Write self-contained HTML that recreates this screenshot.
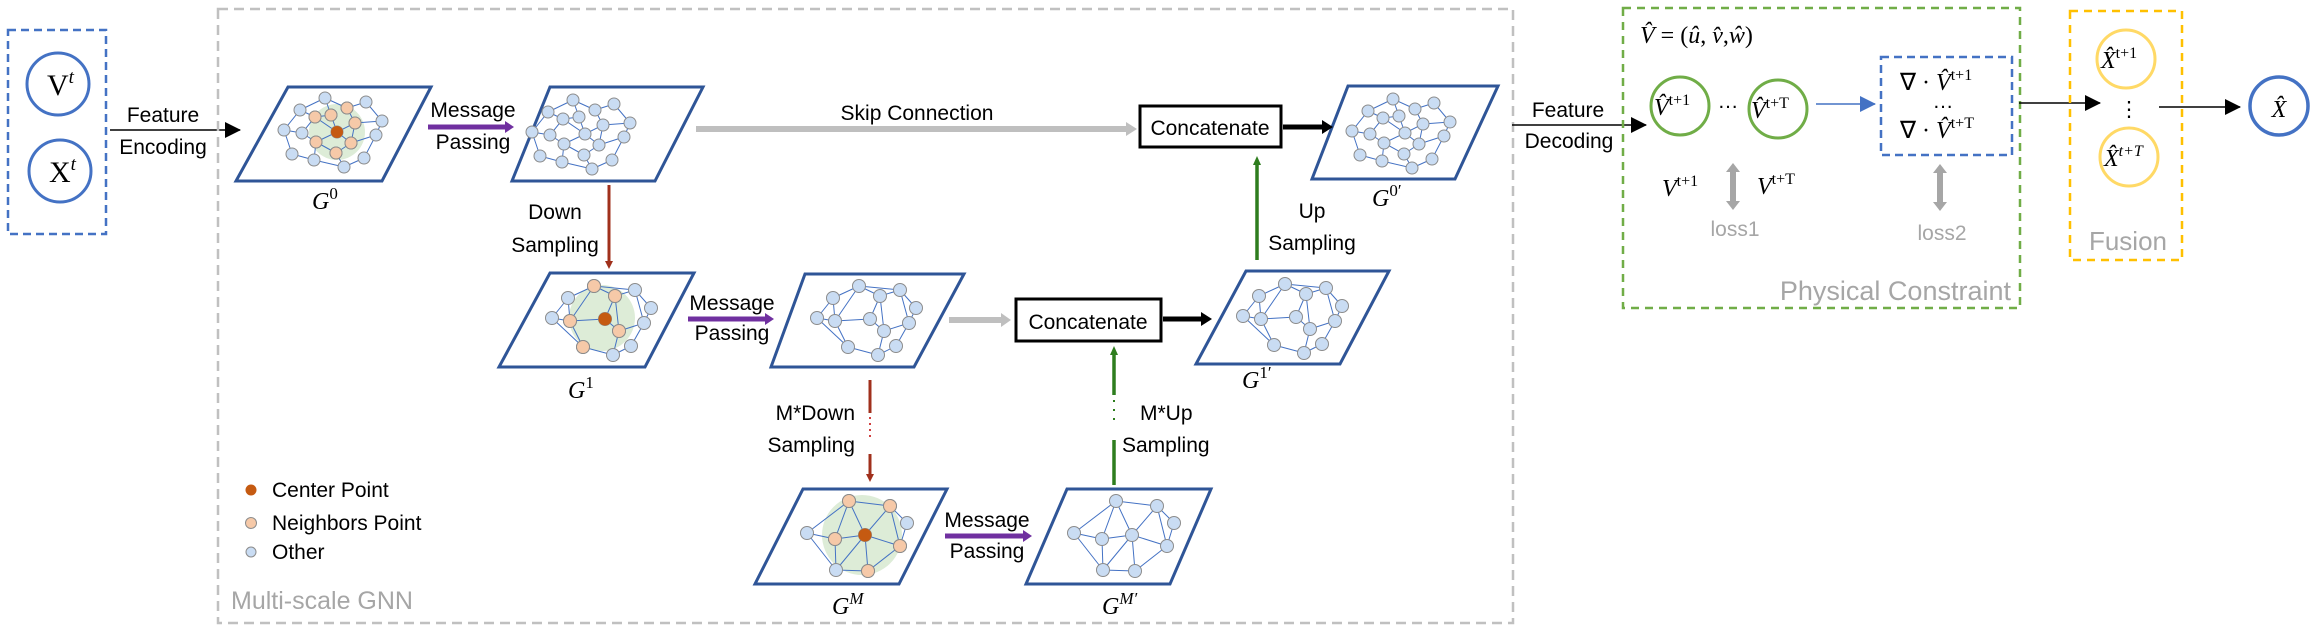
<!DOCTYPE html>
<html><head><meta charset="utf-8"><style>
html,body{margin:0;padding:0;background:#fff;}
svg{display:block;}
.t{font-family:"Liberation Sans",sans-serif;font-size:21px;fill:#000;}
.m{font-family:"Liberation Serif",serif;font-style:italic;font-size:24px;fill:#000;}
.g{font-family:"Liberation Sans",sans-serif;fill:#a6a6a6;}
</style></head><body>
<svg width="2317" height="631" viewBox="0 0 2317 631" xmlns="http://www.w3.org/2000/svg">
<defs>
<marker id="ak" markerWidth="10" markerHeight="10" refX="9" refY="5" orient="auto" markerUnits="userSpaceOnUse"><path d="M0,0L10,5L0,10z" fill="#000"/></marker>
<marker id="ak2" markerWidth="16" markerHeight="16" refX="15" refY="8" orient="auto" markerUnits="userSpaceOnUse"><path d="M0,0L16,8L0,16z" fill="#000"/></marker>
<marker id="ab" markerWidth="16" markerHeight="16" refX="15" refY="8" orient="auto" markerUnits="userSpaceOnUse"><path d="M0,0L16,8L0,16z" fill="#4472c4"/></marker>
<g id="A">
<path fill="none" stroke="#4472c4" stroke-width="1" d="M-12,-34L-37,-22M-12,-34L-6,-17M-12,-34L10,-24M29,-30L10,-24M29,-30L45,-11M-37,-22L-22,-15M-37,-22L-53,-2M-22,-15L-6,-17M-22,-15L-35,1M-6,-17L0,0M10,-24L18,-9M18,-9L45,-11M18,-9L0,0M45,-11L39,3M-53,-2L-35,1M-53,-2L-45,22M-35,1L-21,10M0,0L-21,10M0,0L14,11M39,3L14,11M39,3L27,26M-21,10L-23,28M14,11L-1,21M-45,22L-23,28M-1,21L7,35M27,26L7,35M-23,28L7,35M-21,10L-1,21M18,-9L14,11M-22,-15L0,0"/>
<g fill="#c9dcf3" stroke="#8c8c8c" stroke-width="1">
<circle cx="-12" cy="-34" r="6"/><circle cx="29" cy="-30" r="6"/><circle cx="-37" cy="-22" r="6"/><circle cx="-22" cy="-15" r="6"/><circle cx="-6" cy="-17" r="6"/><circle cx="10" cy="-24" r="6"/><circle cx="18" cy="-9" r="6"/><circle cx="45" cy="-11" r="6"/><circle cx="-53" cy="-2" r="6"/><circle cx="-35" cy="1" r="6"/><circle cx="0" cy="0" r="6"/><circle cx="39" cy="3" r="6"/><circle cx="-21" cy="10" r="6"/><circle cx="14" cy="11" r="6"/><circle cx="-45" cy="22" r="6"/><circle cx="-1" cy="21" r="6"/><circle cx="27" cy="26" r="6"/><circle cx="-23" cy="28" r="6"/><circle cx="7" cy="35" r="6"/>
</g></g>
<g id="B">
<path fill="none" stroke="#4472c4" stroke-width="1" d="M-8,-34L-34,-22M-8,-34L13,-24M-8,-34L33,-30M-34,-22L-50,-2M-34,-22L-32,1M13,-24L33,-30M13,-24L3,-1M33,-30L49,-12M33,-30L42,3M49,-12L42,3M-50,-2L-32,1M-50,-2L-19,27M-32,1L3,-1M-32,1L-19,27M3,-1L17,11M42,3L17,11M42,3L29,26M17,11L11,35M-19,27L11,35M29,26L11,35M-8,-34L-32,1M13,-24L17,11"/>
<g fill="#c9dcf3" stroke="#8c8c8c" stroke-width="1">
<circle cx="-8" cy="-34" r="6.5"/><circle cx="-34" cy="-22" r="6.5"/><circle cx="13" cy="-24" r="6.5"/><circle cx="33" cy="-30" r="6.5"/><circle cx="49" cy="-12" r="6.5"/><circle cx="-50" cy="-2" r="6.5"/><circle cx="-32" cy="1" r="6.5"/><circle cx="3" cy="-1" r="6.5"/><circle cx="42" cy="3" r="6.5"/><circle cx="17" cy="11" r="6.5"/><circle cx="-19" cy="27" r="6.5"/><circle cx="29" cy="26" r="6.5"/><circle cx="11" cy="35" r="6.5"/>
</g></g>
<g id="C">
<path fill="none" stroke="#4472c4" stroke-width="1" d="M-2,-36L39,-31M-2,-36L-44,-4M-2,-36L-16,2M-2,-36L14,-2M39,-31L56,-14M39,-31L14,-2M56,-14L49,9M-44,-4L-16,2M-44,-4L-15,33M-16,2L14,-2M-16,2L-15,33M14,-2L49,9M14,-2L17,34M49,9L17,34M-15,33L17,34M39,-31L49,9M14,-2L-15,33"/>
<g fill="#c9dcf3" stroke="#8c8c8c" stroke-width="1">
<circle cx="-2" cy="-36" r="6.5"/><circle cx="39" cy="-31" r="6.5"/><circle cx="56" cy="-14" r="6.5"/><circle cx="-44" cy="-4" r="6.5"/><circle cx="-16" cy="2" r="6.5"/><circle cx="14" cy="-2" r="6.5"/><circle cx="49" cy="9" r="6.5"/><circle cx="-15" cy="33" r="6.5"/><circle cx="17" cy="34" r="6.5"/>
</g></g>
</defs>

<!-- input box -->
<rect x="8" y="30" width="98" height="204" fill="none" stroke="#4472c4" stroke-width="2.5" stroke-dasharray="8,5"/>
<circle cx="58" cy="84" r="31" fill="none" stroke="#4472c4" stroke-width="3"/>
<circle cx="60" cy="171" r="31" fill="none" stroke="#4472c4" stroke-width="3"/>
<text x="47" y="95" font-family="Liberation Serif,serif" font-size="30">V<tspan dy="-12" font-size="19" font-style="italic">t</tspan></text>
<text x="49" y="182" font-family="Liberation Serif,serif" font-size="30">X<tspan dy="-12" font-size="19" font-style="italic">t</tspan></text>
<line x1="110" y1="130" x2="240" y2="130" stroke="#000" stroke-width="1.5" marker-end="url(#ak2)"/>
<text class="t" x="163" y="122" text-anchor="middle">Feature</text>
<text class="t" x="163" y="154" text-anchor="middle">Encoding</text>

<!-- GNN box -->
<rect x="218" y="9" width="1295" height="614" fill="none" stroke="#c0c0c0" stroke-width="2.5" stroke-dasharray="10,6"/>
<text class="g" x="231" y="609" font-size="25">Multi-scale GNN</text>

<!-- parallelograms -->
<g fill="none" stroke="#2f5597" stroke-width="3">
<polygon points="288,87 431,87 382,181 236,181"/>
<polygon points="550,87 703,87 655,181 512,181"/>
<polygon points="550,273 694,273 645,367 499,367"/>
<polygon points="805,274 964,274 914,367 771,367"/>
<polygon points="1348,86 1498,86 1455,179 1312,179"/>
<polygon points="1246,271 1389,271 1340,364 1196,364"/>
<polygon points="803,489 947,489 899,584 755,584"/>
<polygon points="1067,489 1211,489 1170,584 1026,584"/>
</g>
<!-- graphs -->
<circle cx="337" cy="132" r="28" fill="#d9ead3" opacity="0.9"/>
<use href="#A" transform="translate(337,132)"/>
<g fill="#f6c9a8" stroke="#8c8c8c"><circle cx="315" cy="117" r="6"/><circle cx="331" cy="115" r="6"/><circle cx="347" cy="108" r="6"/><circle cx="355" cy="123" r="6"/><circle cx="316" cy="142" r="6"/><circle cx="351" cy="143" r="6"/><circle cx="336" cy="153" r="6"/></g>
<circle cx="337" cy="132" r="6" fill="#c55a11"/>
<use href="#A" transform="translate(585,134)"/>
<use href="#A" transform="translate(1405,133)"/>
<circle cx="602" cy="318" r="33" fill="#d9ead3" opacity="0.9"/>
<use href="#B" transform="translate(602,320)"/>
<g fill="#f6c9a8" stroke="#8c8c8c"><circle cx="594" cy="286" r="6.5"/><circle cx="615" cy="296" r="6.5"/><circle cx="570" cy="321" r="6.5"/><circle cx="619" cy="331" r="6.5"/><circle cx="583" cy="347" r="6.5"/></g>
<circle cx="605" cy="319" r="6.5" fill="#c55a11"/>
<use href="#B" transform="translate(867,320)"/>
<use href="#B" transform="translate(1293,318)"/>
<circle cx="862" cy="535" r="40" fill="#d9ead3" opacity="0.9"/>
<use href="#C" transform="translate(851,537)"/>
<g fill="#f6c9a8" stroke="#8c8c8c"><circle cx="849" cy="501" r="6.5"/><circle cx="890" cy="506" r="6.5"/><circle cx="835" cy="539" r="6.5"/><circle cx="900" cy="546" r="6.5"/><circle cx="868" cy="571" r="6.5"/></g>
<circle cx="865" cy="535" r="6.5" fill="#c55a11"/>
<use href="#C" transform="translate(1118,537)"/>

<!-- graph labels -->
<text class="m" x="312" y="209">G<tspan dy="-10" font-size="17" font-style="normal">0</tspan></text>
<text class="m" x="568" y="398">G<tspan dy="-10" font-size="17" font-style="normal">1</tspan></text>
<text class="m" x="1372" y="206">G<tspan dy="-10" font-size="17" font-style="normal">0′</tspan></text>
<text class="m" x="1242" y="388">G<tspan dy="-10" font-size="17" font-style="normal">1′</tspan></text>
<text class="m" x="832" y="614">G<tspan dy="-10" font-size="17">M</tspan></text>
<text class="m" x="1102" y="614">G<tspan dy="-10" font-size="17">M′</tspan></text>

<!-- message passing arrows -->
<g stroke="#7030a0" stroke-width="5">
<line x1="428" y1="127" x2="506" y2="127"/>
<line x1="688" y1="319" x2="766" y2="319"/>
<line x1="945" y1="536" x2="1024" y2="536"/>
</g>
<g fill="#7030a0">
<path d="M505,121L514,127L505,133z"/><path d="M765,313L774,319L765,325z"/><path d="M1023,530L1032,536L1023,542z"/>
</g>
<g class="t" text-anchor="middle">
<text x="473" y="117">Message</text><text x="473" y="149">Passing</text>
<text x="732" y="310">Message</text><text x="732" y="340">Passing</text>
<text x="987" y="527">Message</text><text x="987" y="558">Passing</text>
</g>

<!-- skip / gray arrows -->
<line x1="696" y1="129" x2="1128" y2="129" stroke="#bfbfbf" stroke-width="6"/>
<path d="M1126,122L1137,129L1126,136z" fill="#bfbfbf"/>
<text class="t" x="917" y="120" text-anchor="middle">Skip Connection</text>
<line x1="949" y1="320" x2="1003" y2="320" stroke="#bfbfbf" stroke-width="6"/>
<path d="M1001,313L1011,320L1001,327z" fill="#bfbfbf"/>

<!-- concatenate -->
<rect x="1140" y="106" width="141" height="41" fill="#fff" stroke="#000" stroke-width="3"/>
<text class="t" x="1210" y="135" text-anchor="middle" font-size="23">Concatenate</text>
<rect x="1016" y="299" width="145" height="42" fill="#fff" stroke="#000" stroke-width="3"/>
<text class="t" x="1088" y="329" text-anchor="middle" font-size="23">Concatenate</text>
<line x1="1283" y1="127" x2="1324" y2="127" stroke="#000" stroke-width="5"/>
<path d="M1322,120L1333,127L1322,134z"/>
<line x1="1163" y1="319" x2="1203" y2="319" stroke="#000" stroke-width="5"/>
<path d="M1201,312L1212,319L1201,326z"/>

<!-- down sampling -->
<line x1="609" y1="185" x2="609" y2="262" stroke="#a0301c" stroke-width="3"/>
<path d="M605,261L609,269L613,261z" fill="#a0301c"/>
<text class="t" x="555" y="219" text-anchor="middle">Down</text>
<text class="t" x="555" y="252" text-anchor="middle">Sampling</text>
<line x1="870" y1="380" x2="870" y2="413" stroke="#a0301c" stroke-width="3"/>
<line x1="870" y1="417" x2="870" y2="440" stroke="#c00000" stroke-width="1.5" stroke-dasharray="2,4"/>
<line x1="870" y1="454" x2="870" y2="475" stroke="#a0301c" stroke-width="3"/>
<path d="M866,474L870,482L874,474z" fill="#a0301c"/>
<text class="t" x="855" y="420" text-anchor="end">M*Down</text>
<text class="t" x="855" y="452" text-anchor="end">Sampling</text>

<!-- up sampling -->
<line x1="1257" y1="260" x2="1257" y2="164" stroke="#2e7d1e" stroke-width="3.5"/>
<path d="M1253,165L1257,156L1261,165z" fill="#2e7d1e"/>
<text class="t" x="1312" y="218" text-anchor="middle">Up</text>
<text class="t" x="1312" y="250" text-anchor="middle">Sampling</text>
<line x1="1114" y1="485" x2="1114" y2="440" stroke="#2e7d1e" stroke-width="3.5"/>
<line x1="1114" y1="400" x2="1114" y2="424" stroke="#2e7d1e" stroke-width="2" stroke-dasharray="2,7"/>
<line x1="1114" y1="395" x2="1114" y2="354" stroke="#2e7d1e" stroke-width="3.5"/>
<path d="M1110,355L1114,346L1118,355z" fill="#2e7d1e"/>
<text class="t" x="1140" y="420">M*Up</text>
<text class="t" x="1122" y="452">Sampling</text>

<!-- legend -->
<circle cx="251" cy="490" r="5.5" fill="#c55a11"/>
<circle cx="251" cy="523" r="5.5" fill="#f6c9a8" stroke="#8c8c8c"/>
<circle cx="251" cy="552" r="5" fill="#c9dcf3" stroke="#8c8c8c"/>
<text class="t" x="272" y="497">Center Point</text>
<text class="t" x="272" y="530">Neighbors Point</text>
<text class="t" x="272" y="559">Other</text>

<!-- decoding -->
<line x1="1512" y1="125" x2="1646" y2="125" stroke="#000" stroke-width="1.5" marker-end="url(#ak2)"/>
<text class="t" x="1568" y="117" text-anchor="middle">Feature</text>
<text class="t" x="1569" y="148" text-anchor="middle">Decoding</text>

<!-- physical constraint -->
<rect x="1623" y="8" width="397" height="300" fill="none" stroke="#70ad47" stroke-width="2.5" stroke-dasharray="8,6"/>
<text class="m" x="1640" y="43" font-size="22">V̂<tspan font-style="normal"> = (</tspan>û<tspan font-style="normal">, </tspan>v̂<tspan font-style="normal">,</tspan>ŵ<tspan font-style="normal">)</tspan></text>
<circle cx="1680" cy="106" r="29" fill="none" stroke="#70ad47" stroke-width="3"/>
<circle cx="1778" cy="109" r="29" fill="none" stroke="#70ad47" stroke-width="3"/>
<text class="m" x="1654" y="115" font-size="22">V̂<tspan dy="-10" font-size="16" font-style="normal">t+1</tspan></text>
<text class="m" x="1751" y="118" font-size="22">V̂<tspan dy="-10" font-size="16" font-style="normal">t+T</tspan></text>
<text class="t" x="1728" y="108" text-anchor="middle">…</text>
<line x1="1816" y1="104" x2="1875" y2="104" stroke="#4472c4" stroke-width="1.5" marker-end="url(#ab)"/>
<rect x="1881" y="57" width="131" height="98" fill="none" stroke="#4472c4" stroke-width="2.5" stroke-dasharray="8,5"/>
<text class="m" x="1900" y="90" font-size="22"><tspan font-style="normal">∇ · </tspan>V̂<tspan dy="-10" font-size="16" font-style="normal">t+1</tspan></text>
<text class="t" x="1943" y="108" text-anchor="middle">…</text>
<text class="m" x="1900" y="138" font-size="22"><tspan font-style="normal">∇ · </tspan>V̂<tspan dy="-10" font-size="16" font-style="normal">t+T</tspan></text>
<text class="m" x="1662" y="196" font-size="24">V<tspan dy="-10" font-size="16" font-style="normal">t+1</tspan></text>
<text class="m" x="1757" y="194" font-size="24">V<tspan dy="-10" font-size="16" font-style="normal">t+T</tspan></text>
<g fill="#a6a6a6">
<path d="M1733,163L1740,172L1736,172L1736,201L1740,201L1733,210L1726,201L1730,201L1730,172L1726,172z"/>
<path d="M1940,164L1947,173L1943,173L1943,202L1947,202L1940,211L1933,202L1937,202L1937,173L1933,173z"/>
</g>
<text class="g" x="1735" y="236" font-size="21" text-anchor="middle" font-family="Liberation Serif,serif">loss1</text>
<text class="g" x="1942" y="240" font-size="21" text-anchor="middle" font-family="Liberation Serif,serif">loss2</text>
<text class="g" x="2011" y="300" font-size="27" text-anchor="end">Physical Constraint</text>

<!-- fusion -->
<line x1="2019" y1="103" x2="2100" y2="103" stroke="#000" stroke-width="1.5" marker-end="url(#ak2)"/>
<rect x="2070" y="11" width="112" height="249" fill="none" stroke="#ffc000" stroke-width="2.5" stroke-dasharray="8,6"/>
<circle cx="2126" cy="59" r="29" fill="none" stroke="#ffd966" stroke-width="3"/>
<circle cx="2129" cy="157" r="29" fill="none" stroke="#ffd966" stroke-width="3"/>
<text class="m" x="2101" y="68" font-size="22">X̂<tspan dy="-10" font-size="16" font-style="normal">t+1</tspan></text>
<text class="m" x="2104" y="166" font-size="22">X̂<tspan dy="-10" font-size="16">t+T</tspan></text>
<text class="t" x="2129" y="116" text-anchor="middle">⋮</text>
<text class="g" x="2128" y="250" font-size="26" text-anchor="middle">Fusion</text>
<line x1="2159" y1="107" x2="2240" y2="107" stroke="#000" stroke-width="1.5" marker-end="url(#ak2)"/>
<circle cx="2279" cy="106" r="29" fill="none" stroke="#4472c4" stroke-width="3.5"/>
<text class="m" x="2279" y="117" font-size="30" text-anchor="middle">X̂</text>
</svg>
</body></html>
